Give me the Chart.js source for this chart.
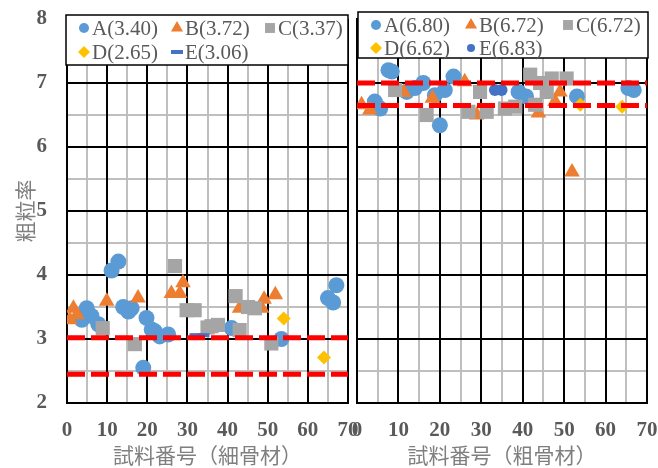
<!DOCTYPE html>
<html>
<head>
<meta charset="utf-8">
<script src="https://cdn.jsdelivr.net/npm/chart.js@4.4.0/dist/chart.umd.min.js"></script>
<style>
  body { margin: 0; background: #fff; }
  #wrap { position: relative; width: 658px; height: 468px; }
  canvas { position: absolute; left: 0; top: 0; }
</style>
</head>
<body>
<div id="wrap">
  <canvas id="fine" width="658" height="468"></canvas>
  <canvas id="coarse" width="658" height="468"></canvas>
</div>
<script>
// series names and mean values shown in the legends
const seriesNames = ['A', 'B', 'C', 'D', 'E'];
const fineMeans = ['3.40', '3.72', '3.37', '2.65', '3.06'];
const coarseMeans = ['6.80', '6.72', '6.72', '6.62', '6.83'];

// labelled (major) ticks and the minor grid in between
const xTicks = [0, 10, 20, 30, 40, 50, 60, 70];
const yTicks = [2, 3, 4, 5, 6, 7, 8];
const xMinor = [5, 15, 25, 35, 45, 55, 65];
const yMinor = [2.5, 3.5, 4.5, 5.5, 6.5, 7.5];

// fine aggregate (細骨材)
const fineAx = [3.7, 4.9, 6.1, 7.8, 11.1, 12.8, 14, 15.3, 16.1, 19, 19.8, 21.1, 21.9, 23.1, 25.2, 41, 53.4, 65, 66.3, 67.1];
const fineAy = [3.30, 3.48, 3.36, 3.23, 4.07, 4.21, 3.50, 3.43, 3.48, 2.55, 3.33, 3.15, 3.12, 3.04, 3.07, 3.17, 3.00, 3.64, 3.57, 3.84];
const fineBx = [0.7, 1.6, 2.5, 9.9, 17.7, 26, 28.1, 28.9, 43, 48.5, 49.1, 51.9];
const fineBy = [3.30, 3.48, 3.38, 3.59, 3.64, 3.71, 3.71, 3.88, 3.48, 3.48, 3.62, 3.69];
const fineCx = [8.9, 16.9, 26.9, 29.8, 31.8, 35, 36, 37.6, 42, 43, 45.1, 46.8, 50.9];
const fineCy = [3.17, 2.92, 4.14, 3.45, 3.45, 3.18, 3.20, 3.22, 3.67, 3.14, 3.50, 3.48, 2.93];
const fineDx = [54, 64];
const fineDy = [3.32, 2.71];
const fineEx = [32, 34];
const fineEy = [3.06, 3.06];
const fineLimits = [3.02, 2.45];

// coarse aggregate (粗骨材)
const coarseAx = [4.3, 5.6, 7.6, 8.4, 12, 14, 16, 18.8, 20, 21.2, 23.3, 39, 40.8, 53.1, 65.5, 66.8];
const coarseAy = [6.71, 6.60, 7.20, 7.18, 6.86, 6.92, 7.00, 6.81, 6.34, 6.89, 7.10, 6.86, 6.79, 6.79, 6.92, 6.89];
const coarseBx = [1.1, 3.1, 11.3, 18.2, 26, 28.9, 43.8, 47.8, 49, 51.9];
const coarseBy = [6.66, 6.58, 6.85, 6.76, 7.02, 6.50, 6.53, 6.71, 6.86, 5.61];
const coarseCx = [9.2, 16.8, 26.9, 29.7, 31.3, 35.7, 38.2, 41.8, 43, 44.2, 45.8, 47, 50.6];
const coarseCy = [6.89, 6.50, 6.55, 6.86, 6.55, 6.60, 6.63, 7.13, 6.66, 7.00, 6.86, 7.07, 7.07];
const coarseDx = [53.9, 64];
const coarseDy = [6.66, 6.63];
const coarseEx = [33.3, 34.9];
const coarseEy = [6.89, 6.89];
const coarseLimits = [7.0, 6.65];

const limitX = [0, 70];

const colors = ['#5B9BD5', '#ED7D31', '#A5A5A5', '#FFC000', '#4472C4'];
const serif = '"Liberation Serif", "Noto Sans CJK JP", serif';

function pts(xs, ys) {
  return xs.map((x, i) => ({ x: x, y: ys[i] }));
}

function asTicks(vals) {
  return vals.map(v => ({ value: v }));
}

function scatterSets(xsList, ysList, means, eStyle) {
  const styles = [
    { pointStyle: 'circle', radius: 8, lr: 5 },
    { pointStyle: 'triangle', radius: 9, lr: 7 },
    { pointStyle: 'rect', radius: 10, lr: 7 },
    { pointStyle: 'rectRot', radius: 7, lr: 6 },
    eStyle
  ];
  return seriesNames.map((n, i) => ({
    type: 'scatter',
    label: n + '(' + means[i] + ')',
    data: pts(xsList[i], ysList[i]),
    pointStyle: styles[i].pointStyle,
    pointRadius: styles[i].radius,
    pointHoverRadius: styles[i].radius,
    pointBorderWidth: styles[i].bw || 0,
    backgroundColor: colors[i],
    borderColor: colors[i],
    legendRadius: styles[i].lr,
    legendBw: styles[i].bw || 0,
    order: 5 - i
  }));
}

function limitSets(limits) {
  return limits.map(v => ({
    type: 'line',
    label: '',
    data: limitX.map(x => ({ x: x, y: v })),
    borderColor: '#FF0000',
    borderWidth: 5,
    borderDash: [18, 6],
    pointRadius: 0,
    noLegend: true,
    order: -1
  }));
}

// grey minor grid, placed through the chart's own scales,
// drawn before the black major grid so the black lines stay on top
const minorGrid = {
  id: 'minorGrid',
  beforeDraw(chart) {
    const ctx = chart.ctx;
    const a = chart.chartArea;
    const sx = chart.scales.x, sy = chart.scales.y;
    if (!a || !sx || !sy) return;
    ctx.save();
    ctx.strokeStyle = '#BFBFBF';
    ctx.lineWidth = 2;
    ctx.beginPath();
    xMinor.forEach(v => {
      const p = Math.round(sx.getPixelForValue(v));
      ctx.moveTo(p, a.top);
      ctx.lineTo(p, a.bottom);
    });
    yMinor.forEach(v => {
      const p = Math.round(sy.getPixelForValue(v));
      ctx.moveTo(a.left, p);
      ctx.lineTo(a.right, p);
    });
    ctx.stroke();
    ctx.restore();
  }
};

// boxed legend that sits over the top of the plot area
const boxLegend = {
  id: 'boxLegend',
  afterDraw(chart, args, o) {
    const ctx = chart.ctx;
    ctx.save();
    ctx.fillStyle = '#fff';
    ctx.fillRect(o.x, o.y, o.w, o.h);
    ctx.strokeStyle = '#000';
    ctx.lineWidth = 1.5;
    ctx.strokeRect(o.x, o.y, o.w, o.h);
    let k = 0;
    chart.data.datasets.forEach(ds => {
      if (ds.noLegend) return;
      const col = k % 3, row = Math.floor(k / 3);
      const px = o.x + o.cols[col];
      const py = o.y + o.rows[row];
      ctx.fillStyle = ds.backgroundColor;
      ctx.strokeStyle = ds.borderColor;
      ctx.lineWidth = ds.legendBw;
      Chart.helpers.drawPoint(ctx, { pointStyle: ds.pointStyle, radius: ds.legendRadius, borderWidth: ds.legendBw, rotation: 0 }, px, py);
      ctx.fillStyle = '#595959';
      ctx.font = '21px ' + serif;
      ctx.textAlign = 'left';
      ctx.textBaseline = 'middle';
      ctx.fillText(ds.label, px + 8, py + 1);
      k++;
    });
    ctx.restore();
  }
};

function makeOptions(panel) {
  const left = panel === 'fine';
  return {
    responsive: false,
    animation: false,
    devicePixelRatio: 1,
    layout: { padding: left ? { left: 0, right: 310, top: 19, bottom: 0 } : { left: 357, right: 11, top: 19, bottom: 0 } },
    plugins: {
      legend: { display: false },
      tooltip: { enabled: false },
      boxLegend: left
        ? { x: 66, y: 15, w: 282, h: 50, cols: [18, 111, 204], rows: [13, 37] }
        : { x: 358, y: 12, w: 290, h: 46, cols: [18, 113, 210], rows: [13, 36] }
    },
    scales: {
      x: {
        type: 'linear',
        position: 'bottom',
        min: xTicks[0],
        max: xTicks[xTicks.length - 1],
        afterBuildTicks: s => { s.ticks = asTicks(xTicks); },
        afterFit: s => { s.height = 65; s.paddingLeft = 0; s.paddingRight = 0; },
        ticks: {
          autoSkip: false,
          maxRotation: 0,
          padding: 15,
          color: '#595959',
          font: { family: serif, size: 21, weight: 'bold' },
          callback: v => String(v)
        },
        grid: { drawTicks: false, color: '#000', lineWidth: 2 },
        border: { color: '#000', width: 2 },
        title: {
          display: true,
          text: left ? '試料番号（細骨材）' : '試料番号（粗骨材）',
          color: '#7F7F7F',
          font: { family: serif, size: 21, lineHeight: 1.0 },
          padding: { top: 0, bottom: 0 }
        }
      },
      y: {
        type: 'linear',
        position: 'left',
        min: yTicks[0],
        max: yTicks[yTicks.length - 1],
        afterBuildTicks: s => { s.ticks = asTicks(yTicks); },
        afterFit: s => { s.width = left ? 67 : 0; s.paddingTop = 0; s.paddingBottom = 0; },
        ticks: {
          display: left,
          autoSkip: false,
          padding: 20,
          color: '#595959',
          font: { family: serif, size: 21, weight: 'bold' },
          callback: v => String(v)
        },
        grid: { drawTicks: false, color: '#000', lineWidth: 2 },
        border: { color: '#000', width: 2 },
        title: {
          display: left,
          text: '粗粒率',
          color: '#7F7F7F',
          font: { family: serif, size: 21, lineHeight: 1.2 },
          padding: { top: 15, bottom: 0 }
        }
      }
    }
  };
}

new Chart(document.getElementById('fine'), {
  type: 'scatter',
  data: {
    datasets: scatterSets(
      [fineAx, fineBx, fineCx, fineDx, fineEx],
      [fineAy, fineBy, fineCy, fineDy, fineEy],
      fineMeans,
      { pointStyle: 'line', radius: 6, bw: 4, lr: 6 }
    ).concat(limitSets(fineLimits))
  },
  options: makeOptions('fine'),
  plugins: [minorGrid, boxLegend]
});

new Chart(document.getElementById('coarse'), {
  type: 'scatter',
  data: {
    datasets: scatterSets(
      [coarseAx, coarseBx, coarseCx, coarseDx, coarseEx],
      [coarseAy, coarseBy, coarseCy, coarseDy, coarseEy],
      coarseMeans,
      { pointStyle: 'circle', radius: 6, lr: 4 }
    ).concat(limitSets(coarseLimits))
  },
  options: makeOptions('coarse'),
  plugins: [minorGrid, boxLegend]
});
</script>
</body>
</html>
